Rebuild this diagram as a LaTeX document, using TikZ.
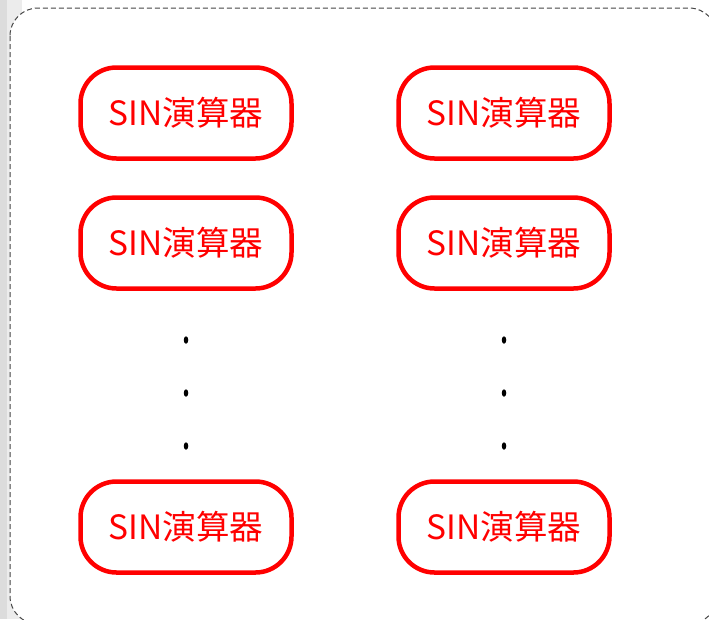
\documentclass[tikz,border=0pt]{standalone}
\usepackage{fontspec}
\newfontfamily\cjk{Noto Sans CJK JP}
\definecolor{sinred}{RGB}{255,0,0}
\definecolor{stripdark}{RGB}{220,220,220}
\definecolor{striplight}{RGB}{236,236,236}
\definecolor{dashgray}{RGB}{70,70,70}
\tikzset{
  sinbox/.style={draw=sinred, line width=4.5pt, rounded corners=36pt, fill=white,
    minimum width=211pt, minimum height=91pt, inner sep=0pt,
    text=sinred, font=\cjk\fontsize{33.5}{38}\selectfont},
  vdot/.style={fill=black, ellipse, minimum width=4.5pt, minimum height=7.5pt, inner sep=0pt},
  outerbox/.style={draw=dashgray, line width=1pt, dash pattern=on 5pt off 3pt, rounded corners=28pt, fill=white}
}
\usetikzlibrary{shapes.geometric}
\begin{document}
\begin{tikzpicture}[x=1pt,y=-1pt]
\useasboundingbox (0,0) rectangle (709,619);
\clip (0,0) rectangle (709,619);
\fill[white] (0,0) rectangle (709,619);
\fill[stripdark] (0,0) rectangle (7,619);
\fill[striplight] (7,0) rectangle (22,619);
\draw[outerbox] (10,8) rectangle (717,624);
\node[sinbox] (a1) at (186,113) {SIN演算器};
\node[sinbox] (b1) at (504,113) {SIN演算器};
\node[sinbox] (a2) at (186,243) {SIN演算器};
\node[sinbox] (b2) at (504,243) {SIN演算器};
\node[sinbox] (a3) at (186,527) {SIN演算器};
\node[sinbox] (b3) at (504,527) {SIN演算器};
\node[vdot] (da1) at (186,340) {};
\node[vdot] (da2) at (186,393) {};
\node[vdot] (da3) at (186,446) {};
\node[vdot] (db1) at (504,340) {};
\node[vdot] (db2) at (504,393) {};
\node[vdot] (db3) at (504,446) {};
\end{tikzpicture}
\end{document}
